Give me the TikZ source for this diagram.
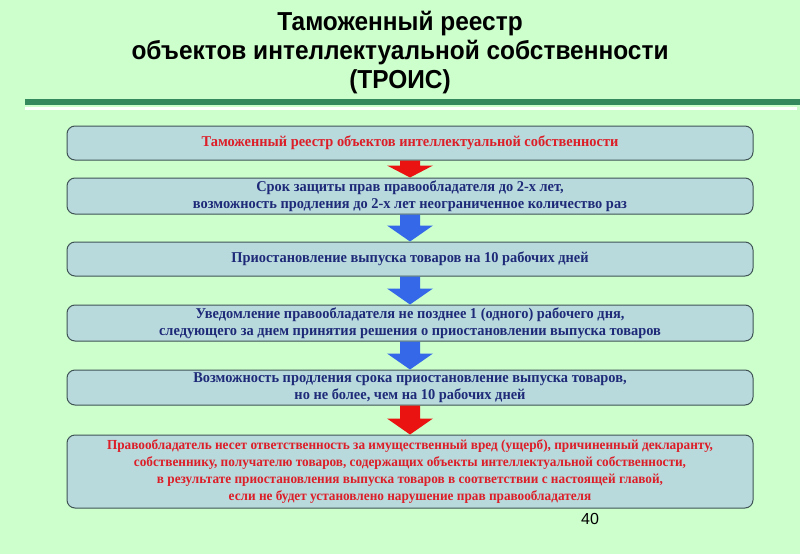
\documentclass[tikz,border=0pt]{standalone}
\usepackage{fontspec}
\usetikzlibrary{calc}
\newfontfamily\titlefont[FakeStretch=0.94]{Liberation Sans}
\newfontfamily\boxfont[FakeStretch=0.96]{Liberation Serif}
\newfontfamily\numfont{Liberation Sans}
\definecolor{bg}{RGB}{204,255,204}
\definecolor{band}{RGB}{52,138,92}
\definecolor{boxfill}{RGB}{184,218,221}
\definecolor{boxline}{RGB}{64,84,86}
\definecolor{txtred}{RGB}{220,30,40}
\definecolor{txtblue}{RGB}{30,42,120}
\definecolor{arrred}{RGB}{235,18,18}
\definecolor{arrblue}{RGB}{52,104,232}
\newcommand\blockarrow[4]{%
  \fill[#3] let \p1=(#1.south), \p2=(#2.north) in
  (\x1-10pt,\y1) -- (\x1+10pt,\y1) -- (\x1+10pt,\y2+#4pt) -- (\x1+23pt,\y2+#4pt)
  -- (\x1,\y2) -- (\x1-23pt,\y2+#4pt) -- (\x1-10pt,\y2+#4pt) -- cycle;}
\tikzset{
  stepbox/.style={rounded corners=8pt, fill=boxfill, draw=boxline, line width=1pt,
    minimum width=686pt, inner sep=0pt, align=center,
    font=\boxfont\bfseries\fontsize{15}{17.3}\selectfont},
  titletext/.style={font=\titlefont\bfseries\fontsize{26}{29}\selectfont, align=center}
}
\begin{document}
\begin{tikzpicture}[x=1pt,y=-1pt]
\fill[bg] (0,0) rectangle (800,554);
\useasboundingbox (0,0) rectangle (800,554);
\node[titletext] (title) at (400,53) {Таможенный реестр\\объектов интеллектуальной собственности\\(ТРОИС)};
\fill[band] (25,99) rectangle (800,105);
\fill[white] (25,106.5) rectangle (797,110);
\node[stepbox, minimum height=34pt, text=txtred] (b1) at (410,143)
  {Таможенный реестр объектов интеллектуальной собственности};
\node[stepbox, minimum height=36pt, text=txtblue] (b2) at (410,196)
  {Срок защиты прав правообладателя до 2-х лет,\\возможность продления до 2-х лет неограниченное количество раз};
\node[stepbox, minimum height=34pt, text=txtblue] (b3) at (410,259)
  {Приостановление выпуска товаров на 10 рабочих дней};
\node[stepbox, minimum height=36pt, text=txtblue] (b4) at (410,323)
  {Уведомление правообладателя не позднее 1 (одного) рабочего дня,\\следующего за днем принятия решения о приостановлении выпуска товаров};
\node[stepbox, minimum height=35pt, text=txtblue] (b5) at (410,387.5)
  {Возможность продления срока приостановление выпуска товаров,\\но не более, чем на 10 рабочих дней};
\node[stepbox, minimum height=73pt, text=txtred, font=\boxfont\bfseries\fontsize{13.8}{17.2}\selectfont] (b6) at (410,471.5)
  {\raisebox{0pt}[\height][\depth]{}Правообладатель несет ответственность за имущественный вред (ущерб), причиненный декларанту,\\собственнику, получателю товаров, содержащих объекты интеллектуальной собственности,\\в результате приостановления выпуска товаров в соответствии с настоящей главой,\\если не будет установлено нарушение прав правообладателя};
\blockarrow{b1}{b2}{arrred}{12}
\blockarrow{b2}{b3}{arrblue}{16}
\blockarrow{b3}{b4}{arrblue}{16}
\blockarrow{b4}{b5}{arrblue}{16}
\blockarrow{b5}{b6}{arrred}{16}
\node[font=\numfont\fontsize{16}{18}\selectfont] (pg) at (590,519) {40};
\end{tikzpicture}
\end{document}
